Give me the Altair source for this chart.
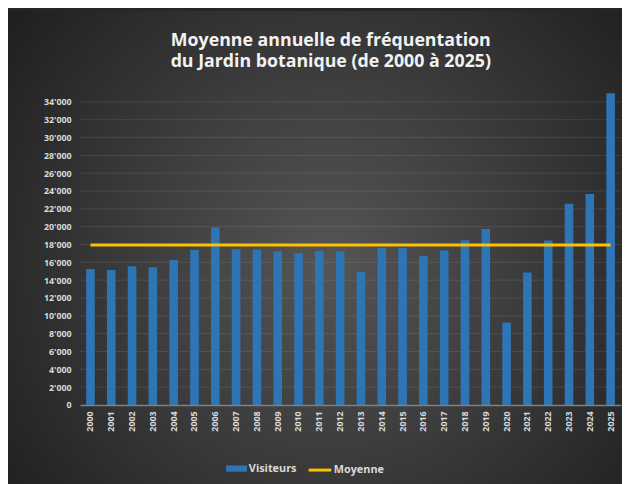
import altair as alt
import pandas as pd

annees = ["2000", "2001", "2002", "2003", "2004", "2005", "2006", "2007", "2008",
          "2009", "2010", "2011", "2012", "2013", "2014", "2015", "2016", "2017",
          "2018", "2019", "2020", "2021", "2022", "2023", "2024", "2025"]
visiteurs = [15260, 15150, 15560, 15450, 16260, 17370, 19910, 17480, 17440,
             17250, 17030, 17250, 17250, 14930, 17620, 17620, 16700, 17330,
             18470, 19730, 9240, 14850, 18440, 22570, 23680, 34980]
moyenne = [17950, 17950, 17950, 17950, 17950, 17950, 17950, 17950, 17950,
           17950, 17950, 17950, 17950, 17950, 17950, 17950, 17950, 17950,
           17950, 17950, 17950, 17950, 17950, 17950, 17950, 17950]
y_ticks = [0, 2000, 4000, 6000, 8000, 10000, 12000, 14000, 16000, 18000,
           20000, 22000, 24000, 26000, 28000, 30000, 32000, 34000]
titre = ["Moyenne annuelle de fréquentation", "du Jardin botanique (de 2000 à 2025)"]

df = pd.DataFrame({
    "annee": annees,
    "visiteurs": visiteurs,
    "moyenne": moyenne,
    "s1": ["Visiteurs"] * len(annees),
    "s2": ["Moyenne"] * len(annees),
})
df_ticks = pd.DataFrame({"v": y_ticks[1:]})

LABEL = "#d9d9d9"
FONT = "Open Sans"

yscale = alt.Scale(domain=[0, 35000], nice=False, zero=True)
yaxis = alt.Axis(
    grid=False, domain=False, ticks=False, tickSize=0, labelPadding=9,
    labelFont=FONT, labelFontSize=9, labelFontWeight="bold", labelColor=LABEL,
    values=y_ticks, title=None, zindex=1,
    labelExpr="datum.value == 0 ? '0' : (datum.value / 1000) + \"'000\"",
)
xenc = alt.X(
    "annee:O", sort=annees,
    scale=alt.Scale(paddingInner=0.587, paddingOuter=0.293),
    axis=alt.Axis(
        labelAngle=270, domainColor="#808080", domainWidth=1.5, ticks=False,
        tickSize=0, labelPadding=6, labelFont=FONT, labelFontSize=9,
        labelFontWeight="bold", labelColor=LABEL, title=None, zindex=1,
    ),
)

gradient = {
    "gradient": "radial",
    "stops": [
        {"offset": 0, "color": "#555555"},
        {"offset": 0.45, "color": "#3e3e3e"},
        {"offset": 1, "color": "#202020"},
    ],
    "x1": 0.5, "y1": 0.52, "r1": 0,
    "x2": 0.5, "y2": 0.52, "r2": 0.62,
}

bg = alt.Chart(pd.DataFrame({"k": [0]})).mark_rect(fill=gradient).encode(
    x=alt.value(-73), x2=alt.value(576), y=alt.value(-83), y2=alt.value(400)
)

grid = alt.Chart(df_ticks).mark_rule(color="#ffffff", opacity=0.1, strokeWidth=1).encode(
    y=alt.Y("v:Q", scale=yscale, axis=yaxis)
)

bars = alt.Chart(df).mark_bar().encode(
    x=xenc,
    y=alt.Y("visiteurs:Q", scale=yscale, axis=yaxis),
    fill=alt.Fill(
        "s1:N",
        scale=alt.Scale(domain=["Visiteurs"], range=["#2e75b6"]),
        legend=alt.Legend(
            title=None, orient="none", legendX=148, legendY=370, padding=0,
            symbolType="M-1,-0.3H1V0.3H-1Z", symbolSize=441, symbolStrokeWidth=0,
            symbolOpacity=1, labelOffset=2, labelFont=FONT, labelFontSize=11,
            labelFontWeight="bold", labelColor=LABEL,
        ),
    ),
)

line = alt.Chart(df).mark_line(strokeWidth=3).encode(
    x=xenc,
    y=alt.Y("moyenne:Q", scale=yscale, axis=yaxis),
    stroke=alt.Stroke(
        "s2:N",
        scale=alt.Scale(domain=["Moyenne"], range=["#ffc000"]),
        legend=alt.Legend(
            title=None, orient="none", legendX=230, legendY=369, padding=0,
            symbolType="stroke", symbolSize=529, symbolStrokeWidth=3,
            labelOffset=1, labelFont=FONT, labelFontSize=11,
            labelFontWeight="bold", labelColor=LABEL,
        ),
    ),
)

chart = alt.layer(bg, grid, bars, line).properties(
    width=548,
    height=316,
    title=alt.TitleParams(
        text=titre, font=FONT, fontSize=18, fontWeight="bold", color="#f2f2f2",
        anchor="middle", frame="group", offset=-61, dx=-20, lineHeight=22,
    ),
    autosize=alt.AutoSizeParams(type="none"),
    padding={"left": 73, "top": 83, "right": 1, "bottom": 77},
    background="#262626",
).configure_view(stroke=None)

chart.save("out.html", embed_options={"renderer": "svg", "actions": False})
